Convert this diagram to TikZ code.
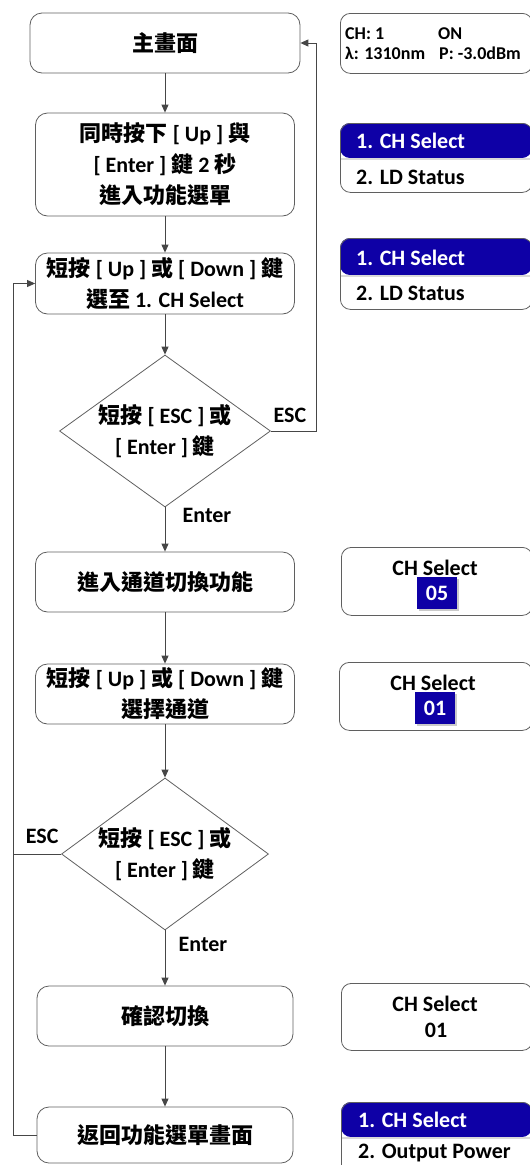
\documentclass[tikz,border=0pt]{standalone}
\usepackage{fontspec}
\setmainfont{Carlito}
\newfontfamily\cjk{Noto Sans CJK TC}
\usetikzlibrary{shapes.geometric,arrows.meta,calc,shadows}
\definecolor{blu}{RGB}{14,0,166}
\definecolor{lnc}{RGB}{70,70,70}
\definecolor{bdc}{RGB}{95,95,95}
\newcommand{\zh}[1]{{\cjk #1}}
\newcommand{\fbig}{\fontsize{22}{31}\selectfont\bfseries}
\newcommand{\fsml}{\fontsize{18}{20}\selectfont\bfseries}
\pgfdeclarelayer{bg}
\pgfsetlayers{bg,main}
\begin{document}
\begin{tikzpicture}[x=1pt,y=-1pt,
  flow/.style={draw=bdc, line width=0.8pt, rounded corners=12pt, align=center, font=\fbig, inner sep=2pt},
  dia/.style={draw=bdc, line width=0.8pt, diamond, inner sep=0pt},
  arr/.style={draw=lnc, line width=0.9pt, -{Triangle[length=8pt,width=7pt]}},
  lnk/.style={draw=lnc, line width=0.9pt},
  lbl/.style={font=\fbig, inner sep=0pt},
  disp/.style={draw=bdc, line width=0.8pt, rounded corners=10pt, anchor=north west, inner sep=0pt},
  dtxt/.style={font=\fbig, anchor=base west, inner sep=0pt},
  ctxt/.style={font=\fbig, anchor=base, inner sep=0pt},
  numbox/.style={fill=blu, text=white, font=\fbig, minimum width=40pt, minimum height=32pt, inner sep=0pt,
     drop shadow={shadow xshift=2pt, shadow yshift=-2pt, fill=black!35, opacity=0.6}}
]
\useasboundingbox (0,0) rectangle (530,1165);

% flow boxes
\node[flow, minimum width=270pt, minimum height=60pt] (b1) at (165,43) {\zh{主畫面}};
\node[flow, minimum width=259pt, minimum height=103pt] (b2) at (165,164.5) {\zh{同時按下} [ Up ] \zh{與}\\{[} Enter ] \zh{鍵} 2 \zh{秒}\\ \zh{進入功能選單}};
\node[flow, minimum width=259pt, minimum height=61pt] (b3) at (165,283.5) {\zh{短按} [ Up ] \zh{或} [ Down ] \zh{鍵}\\ \zh{選至} 1. CH Select};
\node[dia, minimum width=211pt, minimum height=152pt] (d1) at (165,431) {};
\node[lbl, align=center] (d1t) at (165,431) {\zh{短按} [ ESC ] \zh{或}\\{[} Enter ] \zh{鍵}};
\node[flow, minimum width=259pt, minimum height=60pt] (b4) at (165,582) {\zh{進入通道切換功能}};
\node[flow, minimum width=259pt, minimum height=60pt] (b5) at (165,694) {\zh{短按} [ Up ] \zh{或} [ Down ] \zh{鍵}\\ \zh{選擇通道}};
\node[dia, minimum width=207pt, minimum height=152pt] (d2) at (165,854) {};
\node[lbl, align=center] (d2t) at (165,854) {\zh{短按} [ ESC ] \zh{或}\\{[} Enter ] \zh{鍵}};
\node[flow, minimum width=256pt, minimum height=60pt] (b6) at (165,1016) {\zh{確認切換}};
\node[flow, minimum width=256pt, minimum height=56pt] (b7) at (165,1135) {\zh{返回功能選單畫面}};

\coordinate (lx) at (13,0);
\coordinate (rx) at (316,0);

% connectors
\draw[arr] (b1) -- (b2);
\draw[arr] (b2) -- (b3);
\draw[arr] (b3) -- (d1);
\draw[arr] (d1) -- (b4);
\draw[arr] (b4) -- (b5);
\draw[arr] (b5) -- (d2);
\draw[arr] (d2) -- (b6);
\draw[arr] (b6) -- (b7);
\draw[arr] (d1.east) -- (rx |- d1.east) -- (rx |- b1.east) -- (b1.east);
\draw[arr] (b7.west) -- (lx |- b7.west) -- (lx |- b3.west) -- (b3.west);
\draw[lnk] (d2.west) -- (lx |- d2.west);

% branch labels
\node[lbl] (e1) at ($(d1.east)+(19,-16)$) {ESC};
\node[lbl] (n1) at ($(d1.south)+(42,8)$) {Enter};
\node[lbl] (e2) at ($(d2.west)+(-19,-18)$) {ESC};
\node[lbl] (n2) at ($(d2.south)+(38,14)$) {Enter};

% displays
\node[disp, minimum width=192pt, minimum height=60pt] (s1) at (340,13) {};
\node[dtxt, font=\fsml] (s1a) at (345,39) {CH: 1};
\node[dtxt, font=\fsml] (s1b) at (438,39) {ON};
\node[dtxt, font=\fsml] (s1c) at (345,59) {λ: 1310nm};
\node[dtxt, font=\fsml] (s1d) at (439,59) {P: -3.0dBm};

\node[disp, minimum width=192pt, minimum height=69pt] (s2) at (340,123) {};
\node[disp, minimum width=192pt, minimum height=71pt] (s3) at (340,238) {};
\node[disp, minimum width=191pt, minimum height=68pt] (s4) at (341,547) {};
\node[disp, minimum width=193pt, minimum height=68pt] (s5) at (339,662) {};
\node[disp, minimum width=191pt, minimum height=67pt] (s6) at (341,983) {};
\node[disp, minimum width=191pt, minimum height=75pt] (s7) at (341,1102) {};

\begin{pgfonlayer}{bg}
\fill[blu] (340,158) [rounded corners=10pt] -- (340,123) -- (532,123) -- (532,158) -- cycle;
\fill[black!15] (340,158) rectangle (532,160);
\fill[blu] (340,275) [rounded corners=10pt] -- (340,238) -- (532,238) -- (532,275) -- cycle;
\fill[black!15] (340,275) rectangle (532,277);
\fill[blu] (341,1137) [rounded corners=10pt] -- (341,1102) -- (532,1102) -- (532,1137) -- cycle;
\fill[black!15] (341,1137) rectangle (532,1139);
\end{pgfonlayer}

\node[dtxt, text=white] (s2a) at (356,148) {1. CH Select};
\node[dtxt] (s2b) at (356,184) {2. LD Status};
\node[dtxt, text=white] (s3a) at (356,265) {1. CH Select};
\node[dtxt] (s3b) at (356,300) {2. LD Status};

\node[ctxt] (s4a) at (435,575) {CH Select};
\node[numbox] (s4b) at (437,593) {05};
\node[ctxt] (s5a) at (433,690) {CH Select};
\node[numbox] (s5b) at (435,708) {01};
\node[ctxt] (s6a) at (435,1011) {CH Select};
\node[ctxt] (s6b) at (436,1037) {01};

\node[dtxt, text=white] (s7a) at (358,1127) {1. CH Select};
\node[dtxt] (s7b) at (358,1158) {2. Output Power};
\end{tikzpicture}
\end{document}
